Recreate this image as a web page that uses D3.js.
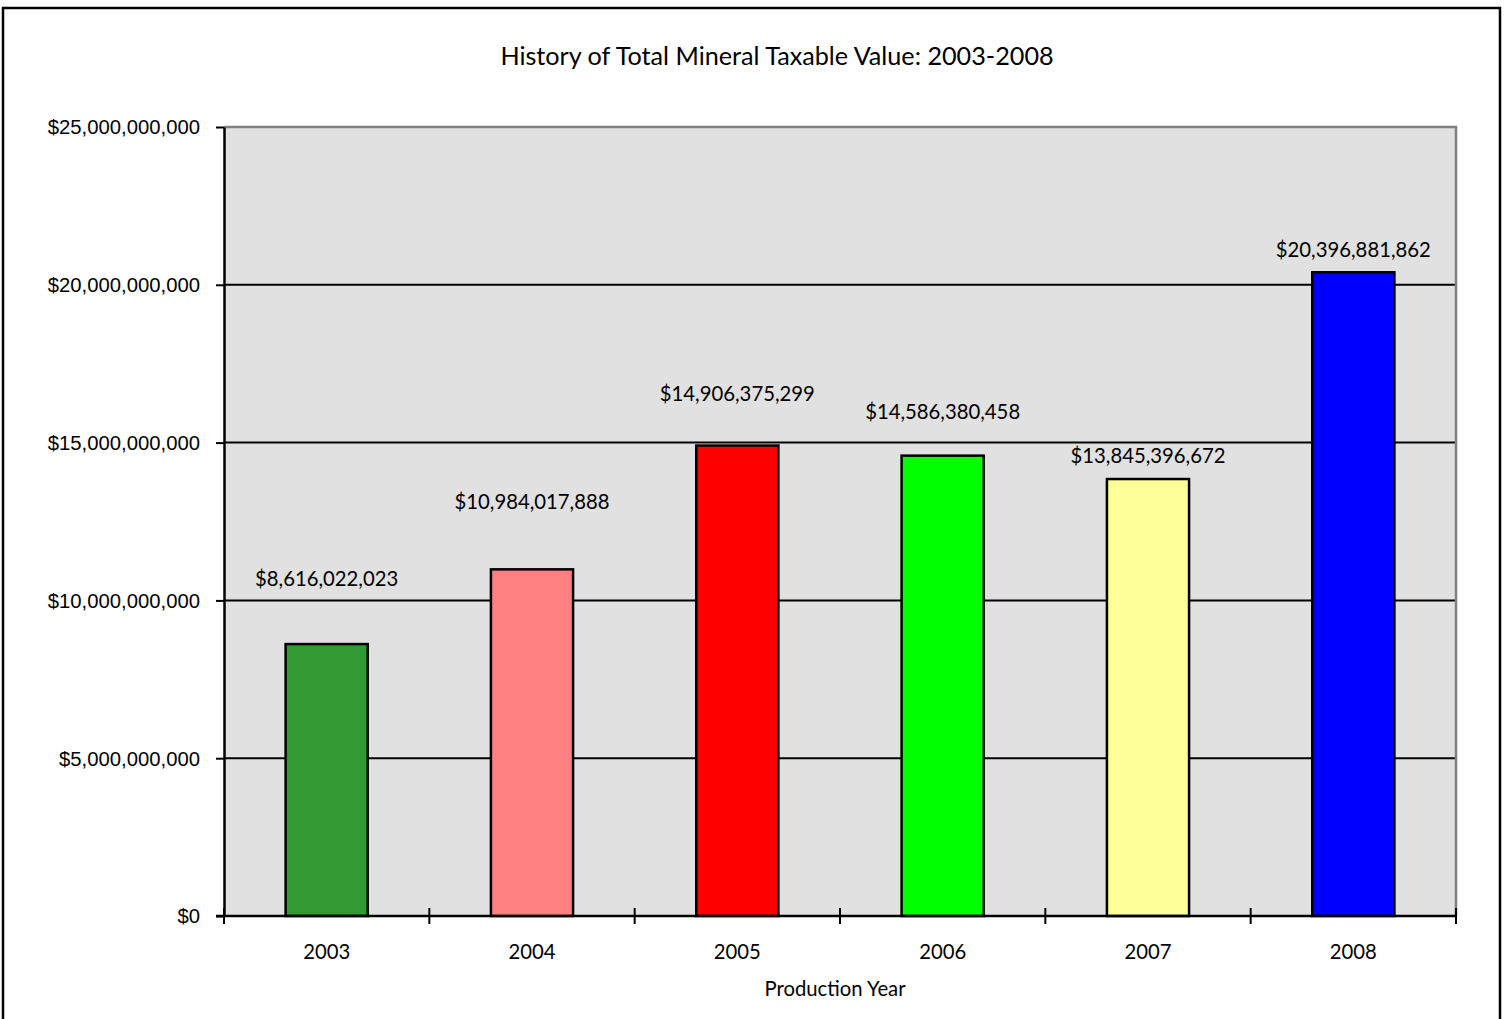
<!DOCTYPE html>
<html>
<head>
<meta charset="utf-8">
<script src="https://cdn.jsdelivr.net/npm/d3@7"></script>
<style>
  html, body { margin: 0; padding: 0; background: #fff; }
  svg { display: block; font-family: Lato, "Open Sans", "Liberation Sans", sans-serif; }
</style>
</head>
<body>
<svg id="chart" width="1507" height="1019"></svg>
<script>
// Production years and total mineral taxable value (USD)
const years = ["2003", "2004", "2005", "2006", "2007", "2008"];
const values = [8616022023, 10984017888, 14906375299, 14586380458, 13845396672, 20396881862];
const barColors = ["#339933", "#FF8080", "#FF0000", "#00FF00", "#FFFF99", "#0000FF"];
const yTicks = [0, 5e9, 10e9, 15e9, 20e9, 25e9];

// Hand-placed value label lift above each bar top (px)
const labelLift = [58, 60, 45, 37, 16, 15];

const W = 1507, H = 1019;
const plot = { left: 224, right: 1456, top: 127, bottom: 916 };
const labelSize = 20.3;

const svg = d3.select("#chart");

// Outer chart frame
svg.append("rect")
  .attr("x", 3).attr("y", 8).attr("width", 1497).attr("height", 1020)
  .attr("fill", "#fff").attr("stroke", "#000").attr("stroke-width", 2.5);

const x = d3.scaleBand().domain(years).range([plot.left, plot.right]).paddingInner(0.6).paddingOuter(0.3);
const xBand = d3.scaleBand().domain(years).range([plot.left, plot.right]);
const y = d3.scaleLinear().domain([0, 25e9]).range([plot.bottom, plot.top]);

const fmt = v => "$" + d3.format(",")(v);

// Plot area
svg.append("rect")
  .attr("x", plot.left).attr("y", plot.top)
  .attr("width", plot.right - plot.left).attr("height", plot.bottom - plot.top)
  .attr("fill", "#E1E1E1");

// Horizontal gridlines
svg.append("g").selectAll("line")
  .data(yTicks.filter(t => t > 0 && t < 25e9))
  .join("line")
  .attr("x1", plot.left).attr("x2", plot.right)
  .attr("y1", d => y(d)).attr("y2", d => y(d))
  .attr("stroke", "#000").attr("stroke-width", 2);

// Plot border (top and right)
svg.append("path")
  .attr("d", `M${plot.left},${plot.top}H${plot.right}V${plot.bottom}`)
  .attr("fill", "none").attr("stroke", "#808080").attr("stroke-width", 2.5);

// Bars
svg.append("g").selectAll("rect")
  .data(values)
  .join("rect")
  .attr("x", (d, i) => x(years[i]))
  .attr("width", x.bandwidth())
  .attr("y", d => y(d))
  .attr("height", d => plot.bottom - y(d))
  .attr("fill", (d, i) => barColors[i])
  .attr("stroke", "#000").attr("stroke-width", 2.5);

// Y axis
const yAxis = svg.append("g")
  .attr("transform", `translate(${plot.left},0)`)
  .call(d3.axisLeft(y).tickValues(yTicks).tickFormat(d => fmt(d)).tickSize(8).tickSizeOuter(0).tickPadding(16));
yAxis.select(".domain").attr("stroke", "#000").attr("stroke-width", 2.5);
yAxis.selectAll(".tick line").attr("stroke", "#000").attr("stroke-width", 2);
yAxis.selectAll(".tick text").attr("font-size", labelSize).attr("fill", "#000").attr("dy", "0.34em");

// X axis with tick marks at category boundaries
const xAxis = svg.append("g").attr("transform", `translate(0,${plot.bottom})`);
xAxis.append("line")
  .attr("x1", plot.left - 8).attr("x2", plot.right)
  .attr("stroke", "#000").attr("stroke-width", 2.5);
const bounds = years.map(yr => xBand(yr)).concat([plot.right]);
xAxis.selectAll("line.tk")
  .data(bounds)
  .join("line").attr("class", "tk")
  .attr("x1", d => d).attr("x2", d => d)
  .attr("y1", -8).attr("y2", 8)
  .attr("stroke", "#000").attr("stroke-width", 2);
xAxis.selectAll("text")
  .data(years)
  .join("text")
  .attr("x", d => xBand(d) + xBand.bandwidth() / 2)
  .attr("y", 43)
  .attr("text-anchor", "middle")
  .attr("font-size", labelSize)
  .text(d => d);

// Value labels
svg.append("g").selectAll("text")
  .data(values)
  .join("text")
  .attr("x", (d, i) => x(years[i]) + x.bandwidth() / 2)
  .attr("y", (d, i) => y(d) - labelLift[i])
  .attr("text-anchor", "middle")
  .attr("font-size", labelSize)
  .text(d => fmt(d));

// Title and axis title
svg.append("text")
  .attr("x", 777).attr("y", 65)
  .attr("text-anchor", "middle")
  .attr("font-size", 25.2)
  .text("History of Total Mineral Taxable Value: 2003-2008");

svg.append("text")
  .attr("x", 835).attr("y", 996)
  .attr("text-anchor", "middle")
  .attr("font-size", labelSize)
  .text("Production Year");
</script>
</body>
</html>
